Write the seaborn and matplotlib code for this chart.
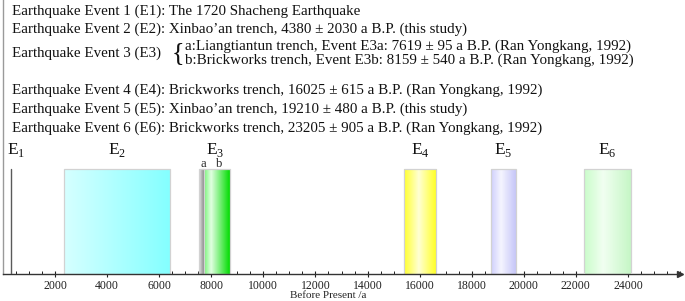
import numpy as np
import seaborn as sns
import matplotlib.pyplot as plt
from matplotlib.colors import LinearSegmentedColormap
from matplotlib.ticker import MultipleLocator

# event data (years before present)
event_ids = ['E1', 'E2', 'E3a', 'E3b', 'E4', 'E5', 'E6']
ages = [300, 4380, 7619, 8159, 16025, 19210, 23205]
errors = [0, 2030, 95, 540, 615, 480, 905]
sites = ['', 'Xinbao\u2019an trench', 'Liangtiantun trench', 'Brickworks trench',
         'Brickworks trench', 'Xinbao\u2019an trench', 'Brickworks trench']
sources = ['', 'this study', 'Ran Yongkang, 1992', 'Ran Yongkang, 1992',
           'Ran Yongkang, 1992', 'this study', 'Ran Yongkang, 1992']

# gradient stops for each box (E1 is a plain line)
box_colors = {
    'E2': [(0, '#d6ffff'), (1, '#84ffff')],
    'E3a': [(0, '#e4e4e4'), (1, '#8c8c8c')],
    'E3b': [(0, '#4cf04c'), (0.35, '#e2ffe2'), (1, '#00dc00')],
    'E4': [(0, '#ffff2c'), (0.45, '#ffffd4'), (1, '#ffff1c')],
    'E5': [(0, '#cfcffd'), (0.4, '#f5f5ff'), (1, '#c6c6f8')],
    'E6': [(0, '#c9fcc9'), (0.4, '#f1fff1'), (1, '#c4f6c4')],
}

sns.set_style('white')
plt.rcParams['font.family'] = ['Liberation Serif', 'DejaVu Serif']
plt.rcParams['mathtext.fontset'] = 'custom'
plt.rcParams['mathtext.rm'] = 'Liberation Serif'

W, H = 685, 301
fig = plt.figure(figsize=(W / 100, H / 100), dpi=100)
ax = fig.add_axes([3 / W, 27 / H, 677 / W, 274 / H])

xmax = 26000
ytop = 274 / 105

# E1 historic event: single line
ax.plot([ages[0], ages[0]], [0, 1], color='#5a5a5a', lw=1, zorder=3)

# dated events: gradient boxes
order = ['E2', 'E3b', 'E3a', 'E4', 'E5', 'E6']
for i, eid in enumerate(order):
    k = event_ids.index(eid)
    x0, x1 = ages[k] - errors[k], ages[k] + errors[k]
    cmap = LinearSegmentedColormap.from_list(eid, box_colors[eid])
    grad = np.linspace(0, 1, 256).reshape(1, -1)
    ax.imshow(grad, cmap=cmap, extent=[x0, x1, 0, 1], aspect='auto',
              interpolation='bilinear', zorder=2 + i * 0.1)
    ax.bar(ages[k], 1, width=2 * errors[k], bottom=0, facecolor='none',
           edgecolor='#d2d2d2', lw=0.9, zorder=2.05 + i * 0.1)

# event labels above boxes
labels = {'E1': 520, 'E2': ages[1], 'E3': ages[3], 'E4': ages[4], 'E5': ages[5], 'E6': ages[6]}
for name, x in labels.items():
    ax.text(x, 1.18, r'$\mathrm{E}_{%s}$' % name[1], ha='center', va='center',
            fontsize=12.5, color='#111111')
ax.text(ages[2] + 60, 1.05, 'a', ha='center', va='center', fontsize=9)
ax.text(ages[3] + 150, 1.05, 'b', ha='center', va='center', fontsize=9)

ax.set_xlim(0, xmax)
ax.set_ylim(0, ytop)
ax.set_aspect('auto')
ax.xaxis.set_major_locator(MultipleLocator(2000))
ax.xaxis.set_minor_locator(MultipleLocator(500))
ax.set_xticks(np.arange(2000, 26000, 2000))
ax.tick_params(axis='x', which='major', direction='inout', length=4, width=0.8,
               labelsize=8.5, pad=2.5, colors='#222222', bottom=True)
ax.tick_params(axis='x', which='minor', direction='in', length=2.5, width=0.7,
               colors='#222222', bottom=True)
ax.set_yticks([])
ax.set_xlabel('Before Present /a', fontsize=8, labelpad=1)
ax.xaxis.set_label_coords((328 - 3) / 677, -0.062)

sns.despine(ax=ax, top=True, right=True)
ax.spines['left'].set_color('#9a9a9a')
ax.spines['left'].set_linewidth(1)
ax.spines['bottom'].set_color('#333333')
ax.spines['bottom'].set_linewidth(1)
ax.plot([xmax], [0], marker='>', color='#333333', markersize=5, clip_on=False)


# text block above the chart (pixel positions from the top-left)
def put(x, y, s, size=10.8):
    fig.text(x / W, 1 - y / H, s, va='center', ha='left', fontsize=size,
             color='#111111')


def line(k, n):
    return (f'Earthquake Event {n} (E{n}): {sites[k]}, {ages[k]} \u00b1 {errors[k]} '
            f'a B.P. ({sources[k]})')


put(12, 11, 'Earthquake Event 1 (E1): The 1720 Shacheng Earthquake')
put(12, 29, line(1, 2))
put(12, 53, 'Earthquake Event 3 (E3)')
put(172, 53, '{', size=19)
put(185, 46, f'a:{sites[2]}, Event E3a: {ages[2]} \u00b1 {errors[2]} a B.P. ({sources[2]})')
put(185, 60, f'b:{sites[3]}, Event E3b: {ages[3]} \u00b1 {errors[3]} a B.P. ({sources[3]})')
put(12, 90, line(4, 4))
put(12, 109, line(5, 5))
put(12, 128, line(6, 6))

fig.savefig('out.png', dpi=100)
